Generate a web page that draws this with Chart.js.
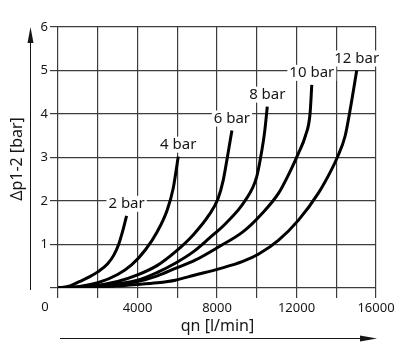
<!DOCTYPE html>
<html>
<head>
<meta charset="utf-8">
<script src="https://cdn.jsdelivr.net/npm/chart.js@4"></script>
<style>
  body { margin: 0; background: #fff; }
  #wrap { width: 400px; height: 353px; }
</style>
</head>
<body>
<div id="wrap"><canvas id="myChart" width="400" height="353"></canvas></div>
<script>
// pressure drop curves (qn in l/min, dp in bar)
const seriesNames = ['2 bar', '4 bar', '6 bar', '8 bar', '10 bar', '12 bar'];

const q2 = [0, 600, 1100, 1600, 2000, 2500, 2800, 3050, 3250, 3450];
const p2 = [0, 0.05, 0.15, 0.26, 0.37, 0.56, 0.75, 1.0, 1.3, 1.66];

const q4 = [0, 1000, 2000, 3000, 3700, 4400, 5000, 5500, 5800, 6050];
const p4 = [0, 0.03, 0.12, 0.31, 0.53, 0.88, 1.3, 1.8, 2.3, 3.02];

const q6 = [0, 1500, 3000, 4000, 5000, 5900, 6800, 7600, 8050, 8300, 8500, 8750];
const p6 = [0, 0.03, 0.15, 0.3, 0.52, 0.83, 1.22, 1.68, 2.05, 2.45, 2.95, 3.62];

const q8 = [0, 2000, 4000, 5000, 5900, 6800, 7600, 8450, 9400, 10000, 10260, 10400, 10530];
const p8 = [0, 0.05, 0.18, 0.36, 0.57, 0.83, 1.14, 1.49, 2.0, 2.56, 3.17, 3.6, 4.17];

const q10 = [0, 2000, 4000, 5000, 5900, 6900, 8100, 9300, 10200, 11100, 11700, 12100, 12450, 12680, 12770];
const p10 = [0, 0.04, 0.15, 0.28, 0.45, 0.64, 0.95, 1.29, 1.68, 2.18, 2.7, 3.1, 3.5, 4.0, 4.67];

const q12 = [0, 2000, 4000, 5000, 5900, 6900, 8100, 9300, 10100, 11100, 12100, 13100, 13750, 14050, 14450, 14700, 15030];
const p12 = [0, 0.02, 0.08, 0.12, 0.18, 0.3, 0.44, 0.61, 0.78, 1.1, 1.56, 2.18, 2.71, 3.0, 3.5, 4.1, 5.0];

const flows = [q2, q4, q6, q8, q10, q12];
const drops = [p2, p4, p6, p8, p10, p12];

const xTicks = [4000, 8000, 12000, 16000];
const yTicks = [1, 2, 3, 4, 5, 6];
const xTitle = 'qn [l/min]';
const yTitle = 'Δp1-2 [bar]';
const originLabel = '0';

const ink = '#161616';
const gridColor = '#3c3c3c';
const font = '"Noto Sans", "Open Sans", sans-serif';

const datasets = seriesNames.map((name, i) => ({
  label: name,
  data: flows[i].map((q, j) => ({ x: q, y: drops[i][j] })),
  showLine: true,
  borderColor: '#000',
  borderWidth: 3,
  pointRadius: 0,
  cubicInterpolationMode: 'monotone',
  fill: false
}));

const extras = {
  id: 'extras',
  afterDatasetsDraw(chart) {
    const ctx = chart.ctx;
    ctx.save();
    ctx.font = '15px ' + font;
    ctx.textAlign = 'center';
    ctx.textBaseline = 'middle';
    chart.data.datasets.forEach((ds, i) => {
      const pts = chart.getDatasetMeta(i).data;
      const last = pts[pts.length - 1];
      const w = ctx.measureText(ds.label).width;
      ctx.fillStyle = '#fff';
      ctx.fillRect(last.x - w / 2 - 2, last.y - 20, w + 4, 16);
      ctx.fillStyle = ink;
      ctx.fillText(ds.label, last.x, last.y - 12);
    });
    ctx.restore();
  },
  afterDraw(chart) {
    const ctx = chart.ctx;
    const area = chart.chartArea;
    ctx.save();
    ctx.fillStyle = ink;
    ctx.strokeStyle = ink;
    ctx.lineWidth = 1;

    // origin label shared by both axes
    ctx.font = '13px ' + font;
    ctx.textAlign = 'center';
    ctx.textBaseline = 'middle';
    ctx.fillText(originLabel, area.left - 13, area.bottom + 19);

    // x title + arrow
    ctx.font = '16px ' + font;
    ctx.fillText(xTitle, (area.left + area.right) / 2 + 0.5, area.bottom + 38);
    ctx.beginPath();
    ctx.moveTo(area.left + 2, area.bottom + 50.5);
    ctx.lineTo(area.right - 14, area.bottom + 50.5);
    ctx.stroke();
    ctx.beginPath();
    ctx.moveTo(area.right + 1, area.bottom + 50.5);
    ctx.lineTo(area.right - 16, area.bottom + 47.5);
    ctx.lineTo(area.right - 16, area.bottom + 53.5);
    ctx.closePath();
    ctx.fill();

    // y title + arrow
    ctx.save();
    ctx.translate(17, 159);
    ctx.rotate(-Math.PI / 2);
    ctx.fillText(yTitle, 0, 0);
    ctx.restore();
    ctx.beginPath();
    ctx.moveTo(30.5, area.bottom + 2);
    ctx.lineTo(30.5, area.top + 14);
    ctx.stroke();
    ctx.beginPath();
    ctx.moveTo(30.5, area.top);
    ctx.lineTo(27.5, area.top + 16);
    ctx.lineTo(33.5, area.top + 16);
    ctx.closePath();
    ctx.fill();
    ctx.restore();
  }
};

const ctx = document.getElementById('myChart').getContext('2d');
const myChart = new Chart(ctx, {
  type: 'scatter',
  data: { datasets: datasets },
  options: {
    responsive: false,
    animation: false,
    layout: { padding: { top: 27, right: 24, left: 0, bottom: 0 } },
    plugins: { legend: { display: false }, tooltip: { enabled: false } },
    scales: {
      x: {
        type: 'linear',
        min: 0,
        max: 16000,
        afterFit: (scale) => { scale.height = 65; },
        ticks: {
          stepSize: 2000,
          autoSkip: false,
          maxRotation: 0,
          padding: 2,
          color: ink,
          font: { size: 13, family: font },
          callback: (v) => xTicks.includes(v) ? String(v) : ''
        },
        grid: { color: gridColor, lineWidth: 1.2, tickLength: 10 },
        border: { display: false }
      },
      y: {
        min: 0,
        max: 6,
        afterFit: (scale) => { scale.width = 58; },
        ticks: {
          stepSize: 1,
          padding: 2,
          color: ink,
          font: { size: 13, family: font },
          callback: (v) => yTicks.includes(v) ? String(v) : ''
        },
        grid: { color: gridColor, lineWidth: 1.2, tickLength: 8 },
        border: { display: false }
      }
    }
  },
  plugins: [extras]
});
</script>
</body>
</html>
